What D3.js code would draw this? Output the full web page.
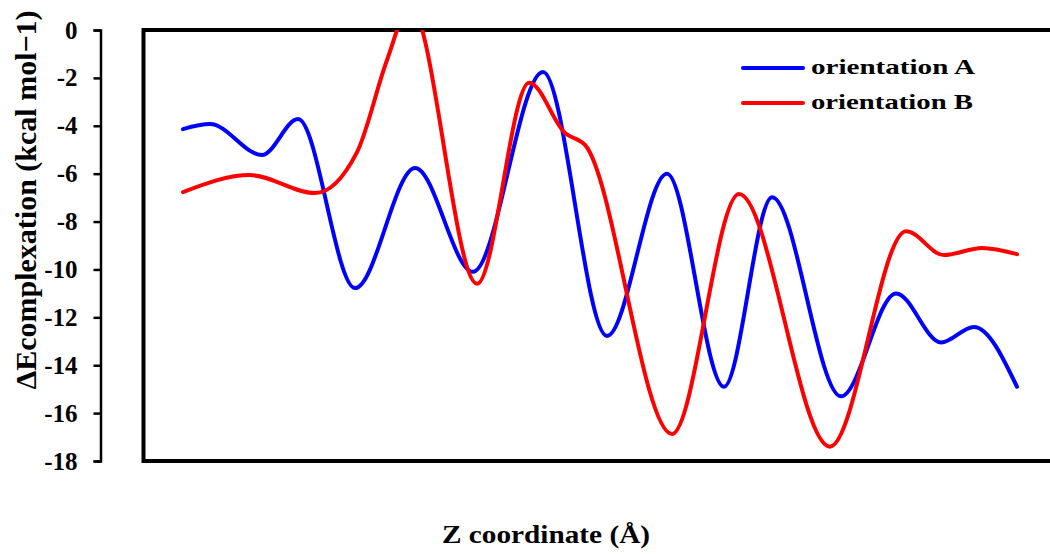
<!DOCTYPE html>
<html>
<head>
<meta charset="utf-8">
<script src="https://cdn.jsdelivr.net/npm/d3@7"></script>
</head>
<body style="margin:0">
<script>
// Z positions (arbitrary units, no tick labels on the original) and energies
var zA = [0, 0.97, 2.84, 4.14, 6.19, 8.35, 10.43, 12.95, 15.25, 17.41, 19.46, 21.19, 23.67, 25.65, 27.27, 28.45, 30]
var eA = [-4.14, -3.93, -5.22, -3.72, -10.78, -5.76, -10.1, -1.75, -12.78, -6.0, -14.9, -6.98, -15.3, -11.0, -13.05, -12.4, -14.9]

var zB = [0, 2.41, 4.75, 6.26, 7.34, 8.17, 10.58, 12.45, 13.74, 14.46, 17.59, 20.0, 23.27, 26.01, 27.37, 28.74, 30]
var eB = [-6.77, -6.06, -6.81, -5.1, -1.25, 1.0, -10.6, -2.2, -4.3, -4.8, -16.87, -6.85, -17.4, -8.4, -9.4, -9.1, -9.36]

var yTicks = [0, -2, -4, -6, -8, -10, -12, -14, -16, -18]
var seriesNames = ['orientation A', 'orientation B']
var seriesColors = ['#0000FF', '#FF0000']


var svg = d3.select('body').append('svg')
  .attr('width', 1050)
  .attr('height', 554)
  .attr('font-family', 'Liberation Serif')
  .attr('font-weight', 'bold')

var x = d3.scaleLinear().domain([0, 30]).range([183, 1017])
var y = d3.scaleLinear().domain([0, -18]).range([30, 461])

// clip for the curves (red peak goes past 0)
svg.append('clipPath').attr('id', 'plotclip')
  .append('rect')
  .attr('x', 143)
  .attr('y', y(0))
  .attr('width', 920)
  .attr('height', y(-18) - y(0))

// y axis, detached from the box
var yAxis = svg.append('g')
  .attr('transform', 'translate(100.5,0)')
  .call(d3.axisLeft(y).tickValues(yTicks).tickSize(7).tickPadding(16).tickFormat(function(d){ return d === 0 ? '0' : '-' + Math.abs(d) }))
  .attr('font-family', null)
  .attr('font-size', 25)

yAxis.select('.domain').attr('stroke', '#000').attr('stroke-width', 2.5)
yAxis.selectAll('.tick line').attr('stroke', '#000').attr('stroke-width', 2.5)
yAxis.selectAll('.tick text').attr('fill', '#000')

// plot box
svg.append('rect')
  .attr('x', 143.5)
  .attr('y', y(0))
  .attr('width', 930)
  .attr('height', y(-18) - y(0))
  .attr('fill', 'none')
  .attr('stroke', '#000')
  .attr('stroke-width', 4)

var line = d3.line()
  .x(function(d){ return x(d[0]) })
  .y(function(d){ return y(d[1]) })
  .curve(d3.curveMonotoneX)

var series = [d3.zip(zA, eA), d3.zip(zB, eB)]

svg.append('g').attr('clip-path', 'url(#plotclip)')
  .selectAll('path')
  .data(series)
  .enter().append('path')
  .attr('d', line)
  .attr('fill', 'none')
  .attr('stroke', function(d, i){ return seriesColors[i] })
  .attr('stroke-width', 4)
  .attr('stroke-linejoin', 'round')
  .attr('stroke-linecap', 'round')

// legend
var legend = svg.append('g')
  .selectAll('g')
  .data(seriesNames)
  .enter().append('g')
  .attr('transform', function(d, i){ return 'translate(743,' + (68 + i * 35) + ')' })

legend.append('line')
  .attr('x1', 0)
  .attr('x2', 60)
  .attr('stroke', function(d, i){ return seriesColors[i] })
  .attr('stroke-width', 4)
  .attr('stroke-linecap', 'round')

legend.append('text')
  .attr('x', 68)
  .attr('y', 6)
  .attr('font-size', 22)
  .attr('textLength', function(d, i){ return i === 0 ? 164 : 162 })
  .attr('lengthAdjust', 'spacingAndGlyphs')
  .text(function(d){ return d })

// axis titles
svg.append('text')
  .attr('x', 546)
  .attr('y', 543)
  .attr('text-anchor', 'middle')
  .attr('textLength', 208)
  .attr('lengthAdjust', 'spacingAndGlyphs')
  .attr('font-size', 26)
  .text('Z coordinate (Å)')

svg.append('text')
  .attr('transform', 'translate(36,200) rotate(-90)')
  .attr('text-anchor', 'middle')
  .attr('font-size', 30)
  .text('ΔEcomplexation (kcal mol−1)')
</script>
</body>
</html>
